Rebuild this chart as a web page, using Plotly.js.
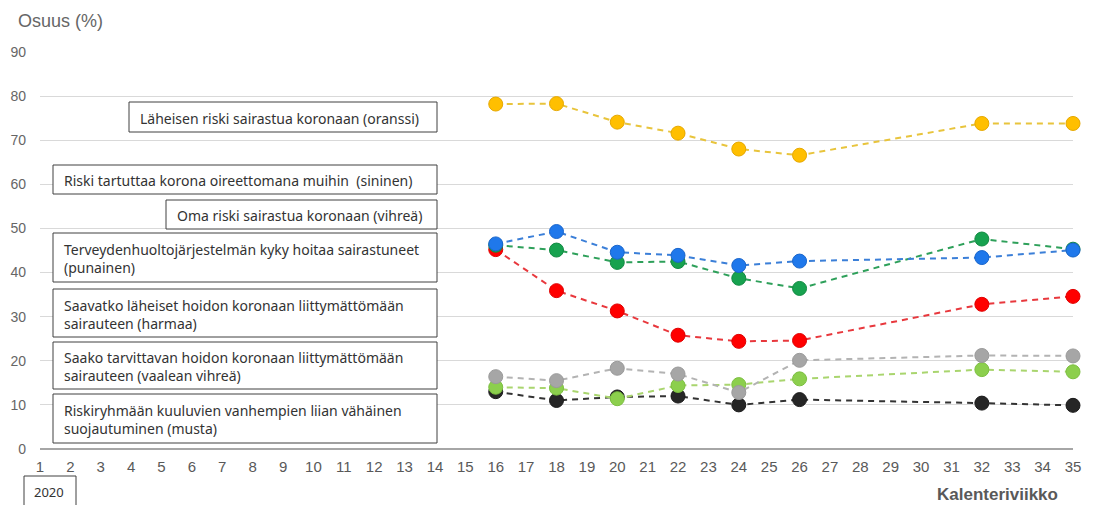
<!DOCTYPE html>
<html>
<head>
<meta charset="utf-8">
<script src="https://cdn.plot.ly/plotly-3.0.1.min.js"></script>
<style>html,body{margin:0;padding:0;background:#fff;}#chart{width:1093px;height:505px;}</style>
</head>
<body>
<div id="chart"></div>
<script>
// Calendar weeks (2020) on the axis
const weekLabels = ["1","2","3","4","5","6","7","8","9","10","11","12","13","14","15","16","17","18","19","20","21","22","23","24","25","26","27","28","29","30","31","32","33","34","35"];
const weekValues = [1,2,3,4,5,6,7,8,9,10,11,12,13,14,15,16,17,18,19,20,21,22,23,24,25,26,27,28,29,30,31,32,33,34,35];
// Survey weeks
const surveyWeeks = [16, 18, 20, 22, 24, 26, 32, 35];
// Series values (%)
const orange     = [78.2, 78.3, 74.1, 71.6, 68.0, 66.6, 73.8, 73.8];
const blue       = [46.5, 49.3, 44.6, 43.9, 41.6, 42.6, 43.4, 45.1];
const green      = [46.2, 45.1, 42.3, 42.5, 38.7, 36.4, 47.6, 45.3];
const red        = [45.2, 35.9, 31.3, 25.8, 24.4, 24.6, 32.8, 34.6];
const gray       = [16.4, 15.5, 18.3, 17.0, 12.8, 20.1, 21.2, 21.1];
const lightGreen = [14.0, 13.8, 11.4, 14.4, 14.6, 15.9, 18.0, 17.5];
const black      = [13.0, 11.0, 11.8, 12.0, 10.0, 11.2, 10.4, 9.9];
const yTicks = [0,10,20,30,40,50,60,70,80,90];

// Box labels
const boxLabels = [
  "Läheisen riski sairastua koronaan (oranssi)",
  "Riski tartuttaa korona oireettomana muihin  (sininen)",
  "Oma riski sairastua koronaan (vihreä)",
  "Terveydenhuoltojärjestelmän kyky hoitaa sairastuneet<br>(punainen)",
  "Saavatko läheiset hoidon koronaan liittymättömään<br>sairauteen (harmaa)",
  "Saako tarvittavan hoidon koronaan liittymättömään<br>sairauteen (vaalean vihreä)",
  "Riskiryhmään kuuluvien vanhempien liian vähäinen<br>suojautuminen (musta)"
];
const yearLabel = "2020";

// pixel geometry helpers (layout only)
const L = 40, R = 1073, T = 52, B = 449;
const px = x => (x - L) / (R - L);
const py = y => (B - y) / (B - T);

// box rectangles [x0, y0, x1, y1] in pixels
const boxes = [
  [129, 102, 437, 132],
  [53, 165, 437, 194],
  [166, 200, 437, 229],
  [53, 233, 437, 282],
  [53, 289, 437, 337],
  [53, 342, 437, 389],
  [53, 394, 437, 443]
];

function series(y, lineColor, markerColor, outline) {
  return {
    x: surveyWeeks, y: y, type: 'scatter', mode: 'lines+markers',
    line: {color: lineColor, width: 2, dash: '6px,5px'},
    marker: {color: markerColor, size: 14, line: {color: outline, width: 1}},
    hoverinfo: 'skip', showlegend: false, cliponaxis: false
  };
}

const data = [
  series(black, '#333333', '#262626', '#1a1a1a'),
  series(lightGreen, '#a9d56e', '#8ccf4d', '#7cbf40'),
  series(gray, '#b3b3b3', '#a6a6a6', '#9a9a9a'),
  series(red, '#e8383d', '#ff0000', '#e00000'),
  series(green, '#2ea05a', '#17a24f', '#128a42'),
  series(blue, '#3b7fd8', '#1f78eb', '#1a66cc'),
  series(orange, '#e8c43c', '#ffbf00', '#e6a800')
];

const shapes = boxes.map(b => ({
  type: 'rect', xref: 'paper', yref: 'paper',
  x0: px(b[0]), x1: px(b[2]), y0: py(b[3]), y1: py(b[1]),
  line: {color: '#404040', width: 1}, fillcolor: '#ffffff', layer: 'above'
}));
shapes.push({
  type: 'rect', xref: 'paper', yref: 'paper',
  x0: px(24), x1: px(76), y0: py(510), y1: py(476),
  line: {color: '#404040', width: 1}, fillcolor: '#ffffff', layer: 'above'
});

const annotations = boxLabels.map((t, i) => ({
  text: t, xref: 'paper', yref: 'paper',
  x: px(boxes[i][0] + 9), y: py((boxes[i][1] + boxes[i][3]) / 2 + 1),
  xanchor: 'left', yanchor: 'middle', align: 'left', showarrow: false,
  font: {family: 'Noto Sans, sans-serif', size: 14, color: '#333333'}
}));
annotations.push({
  text: yearLabel, xref: 'paper', yref: 'paper',
  x: px(49), y: py(492), xanchor: 'center', yanchor: 'middle', showarrow: false,
  font: {family: 'Noto Sans, sans-serif', size: 13, color: '#333333'}
});
annotations.push({
  text: 'Osuus (%)', xref: 'paper', yref: 'paper',
  x: px(16), y: py(21), xanchor: 'left', yanchor: 'middle', showarrow: false,
  font: {family: 'Liberation Sans, Arial, sans-serif', size: 18, color: '#666666'}
});
annotations.push({
  text: '<b>Kalenteriviikko</b>', xref: 'paper', yref: 'paper',
  x: px(1060), y: py(494), xanchor: 'right', yanchor: 'middle', showarrow: false,
  font: {family: 'Liberation Sans, Arial, sans-serif', size: 17, color: '#595959'}
});

const layout = {
  width: 1093, height: 505,
  margin: {l: L, r: 1093 - R, t: T, b: 505 - B, pad: 0},
  paper_bgcolor: '#ffffff', plot_bgcolor: '#ffffff',
  showlegend: false, hovermode: false,
  xaxis: {
    range: [1, 35], tickmode: 'array', tickvals: weekValues, ticktext: weekLabels,
    showgrid: false, zeroline: false, showline: false, ticks: '',
    tickfont: {family: 'Liberation Sans, Arial, sans-serif', size: 15, color: '#595959'},
    ticklabelstandoff: 7, fixedrange: true
  },
  yaxis: {
    range: [0, 90], tickmode: 'array', tickvals: yTicks,
    showgrid: true, gridcolor: '#d9d9d9', gridwidth: 1,
    zeroline: true, zerolinecolor: '#a6a6a6', zerolinewidth: 2,
    showline: false, ticks: '',
    tickfont: {family: 'Liberation Sans, Arial, sans-serif', size: 14, color: '#666666'},
    ticklabelstandoff: 13, fixedrange: true
  },
  shapes: shapes,
  annotations: annotations
};

Plotly.newPlot('chart', data, layout, {staticPlot: true, displayModeBar: false});
</script>
</body>
</html>
